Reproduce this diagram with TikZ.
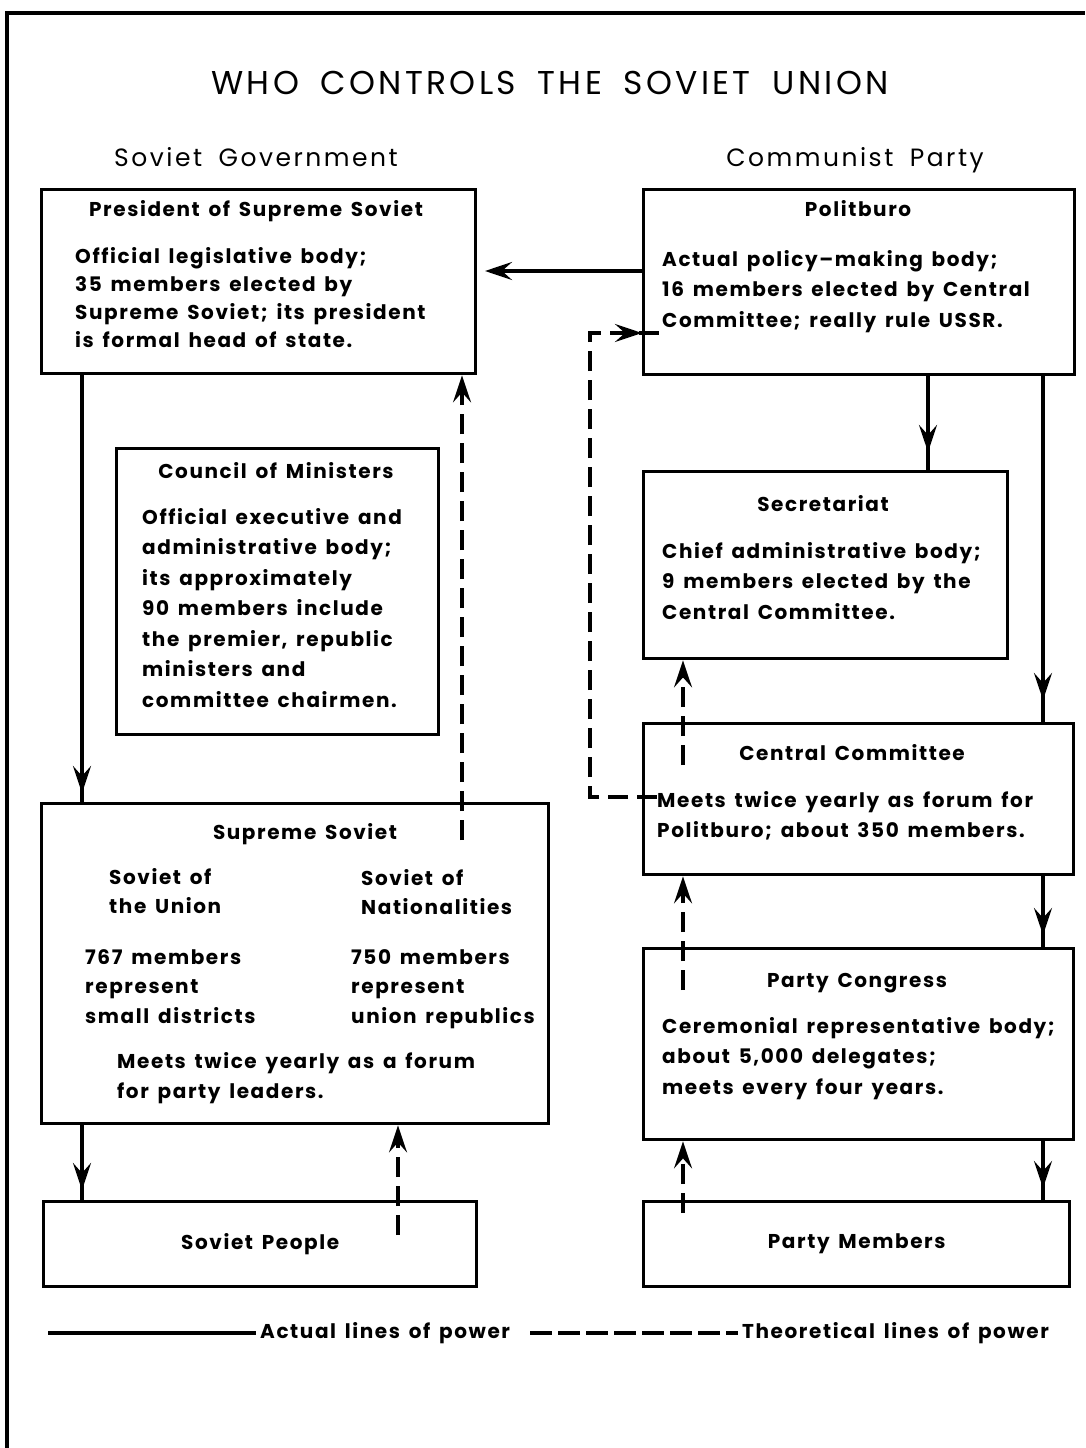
\documentclass[tikz,border=0pt]{standalone}
\usepackage{fontspec}
\setmainfont{Poppins}
\newfontfamily\bodyfont{Poppins}[LetterSpace=8, WordSpace=1.5]
\newfontfamily\headfont{Poppins}[LetterSpace=10, WordSpace=1.5]
\newfontfamily\titlefont{Poppins}[LetterSpace=10, WordSpace=1.8]
\usetikzlibrary{arrows.meta,decorations.markings}
\begin{document}
\begin{tikzpicture}[x=1pt,y=-1pt,
  >={Stealth[length=27pt,width=18pt,inset=10pt]},
  box/.style={draw, line width=3.4pt, inner sep=0pt, anchor=north west},
  txt/.style={inner sep=0pt, align=left, anchor=base west, font=\bodyfont\bfseries\fontsize{20}{29}\selectfont},
  ttl/.style={inner sep=0pt, anchor=base, font=\bodyfont\bfseries\fontsize{20}{29}\selectfont},
  head/.style={inner sep=0pt, anchor=base, font=\headfont\fontsize{25}{28}\selectfont},
  actual/.style={line width=3.4pt},
  theo/.style={line width=3.4pt, dash pattern=on 20pt off 9pt},
  midarrow/.style={postaction={decorate}, decoration={markings, mark=at position #1 with {\arrow{>}}}}
]
\useasboundingbox (0,0) rectangle (1085,1448);
% frame
\coordinate (fa) at (7,1448);
\coordinate (fb) at (7,13);
\coordinate (fc) at (1085,13);
\draw[line width=3.4pt] (fa) -- (fb) -- (fc);

% titles
\node[head, font=\titlefont\fontsize{33}{36}\selectfont] (title) at (550,94) {WHO CONTROLS THE SOVIET UNION};
\node[head] (govt) at (256,166) {Soviet Government};
\node[head] (party) at (855,166) {Communist Party};

% boxes
\node[box, minimum width=434pt, minimum height=184pt] (pres) at (40,188) {};
\node[box, minimum width=431pt, minimum height=185pt] (pol) at (642,188) {};
\node[box, minimum width=322pt, minimum height=286pt] (com) at (115,447) {};
\node[box, minimum width=364pt, minimum height=187pt] (sec) at (642,470) {};
\node[box, minimum width=430pt, minimum height=151pt] (cc) at (642,722) {};
\node[box, minimum width=507pt, minimum height=320pt] (sup) at (40,802) {};
\node[box, minimum width=430pt, minimum height=191pt] (pc) at (642,947) {};
\node[box, minimum width=433pt, minimum height=85pt] (ppl) at (42,1200) {};
\node[box, minimum width=426pt, minimum height=85pt] (pm) at (642,1200) {};

% box texts (base anchor = baseline of last line)
\node[ttl] (presT) at (256,216) {President of Supreme Soviet};
\node[txt, font=\bodyfont\bfseries\fontsize{20}{28}\selectfont] (presB) at (75,347) {Official legislative body;\\35 members elected by\\Supreme Soviet; its president\\is formal head of state.};

\node[ttl] (polT) at (858,216) {Politburo};
\node[txt, font=\bodyfont\bfseries\fontsize{20}{30.5}\selectfont] (polB) at (662,327) {Actual policy–making body;\\16 members elected by Central\\Committee; really rule USSR.};

\node[ttl] (comT) at (276,478) {Council of Ministers};
\node[txt, font=\bodyfont\bfseries\fontsize{20}{30.5}\selectfont] (comB) at (142,707) {Official executive and\\administrative body;\\its approximately\\90 members include\\the premier, republic\\ministers and\\committee chairmen.};

\node[ttl] (secT) at (823,511) {Secretariat};
\node[txt, font=\bodyfont\bfseries\fontsize{20}{30.5}\selectfont] (secB) at (662,619) {Chief administrative body;\\9 members elected by the\\Central Committee.};

\node[ttl] (ccT) at (852,760) {Central Committee};
\node[txt, font=\bodyfont\bfseries\fontsize{20}{30}\selectfont] (ccB) at (657,837) {Meets twice yearly as forum for\\Politburo; about 350 members.};

\node[ttl] (supT) at (305,839) {Supreme Soviet};
\node[txt] (supL1) at (109,913) {Soviet of\\the Union};
\node[txt] (supR1) at (361,914) {Soviet of\\Nationalities};
\node[txt, font=\bodyfont\bfseries\fontsize{20}{29.5}\selectfont] (supL2) at (85,1023) {767 members\\represent\\small districts};
\node[txt, font=\bodyfont\bfseries\fontsize{20}{29.5}\selectfont] (supR2) at (351,1023) {750 members\\represent\\union republics};
\node[txt, font=\bodyfont\bfseries\fontsize{20}{30}\selectfont] (supB) at (117,1098) {Meets twice yearly as a forum\\for party leaders.};

\node[ttl] (pcT) at (857,987) {Party Congress};
\node[txt, font=\bodyfont\bfseries\fontsize{20}{30.5}\selectfont] (pcB) at (662,1094) {Ceremonial representative body;\\about 5,000 delegates;\\meets every four years.};

\node[ttl, anchor=center] (pplT) at (ppl.center) {Soviet People};
\node[ttl, anchor=center] (pmT) at (pm.center) {Party Members};

% actual lines of power
\draw[actual, midarrow=-9pt] ([xshift=42pt]pres.south west) -- ([xshift=42pt]sup.north west);
\draw[actual, ->] ([yshift=-83pt]pol.north west) -- ++(-157,0) coordinate (polend);
\draw[actual, midarrow=-18pt] ([xshift=286pt]pol.south west) -- ([xshift=286pt]pol.south west |- sec.north);
\draw[actual, midarrow=-22pt] ([xshift=401pt]pol.south west) -- ([xshift=401pt]pol.south west |- cc.north);
\draw[actual, midarrow=-12pt] ([xshift=401pt]cc.south west) -- ([xshift=401pt]cc.south west |- pc.north);
\draw[actual, midarrow=-12pt] ([xshift=401pt]pc.south west) -- ([xshift=401pt]pc.south west |- pm.north);
\draw[actual, midarrow=-10pt] ([xshift=42pt]sup.south west) -- ([xshift=42pt]sup.south west |- ppl.north);

% theoretical lines of power
\draw[theo, ->] ([xshift=422pt,yshift=-38pt]sup.north west) -- ([xshift=422pt]pres.south west);
\draw[theo, midarrow=-20pt] ([xshift=15pt,yshift=-75pt]cc.north west) -- ++(-67,0) |- ([xshift=20pt,yshift=-145pt]pol.north west);
\draw[theo, ->] ([xshift=41pt,yshift=-43pt]cc.north west) -- ([xshift=41pt]cc.north west |- sec.south);
\draw[theo, ->] ([xshift=41pt,yshift=-43pt]pc.north west) -- ([xshift=41pt]pc.north west |- cc.south);
\draw[theo, ->] ([xshift=41pt,yshift=-13pt]pm.north west) -- ([xshift=41pt]pm.north west |- pc.south);
\draw[theo, ->] ([xshift=356pt,yshift=-35pt]ppl.north west) -- ([xshift=356pt]ppl.north west |- sup.south);

% legend
\coordinate (la) at (48,1333);
\coordinate (lb) at (530,1333);
\node[txt, anchor=west] (leg1) at (260,1333) {Actual lines of power};
\node[txt, anchor=west] (leg2) at (742,1333) {Theoretical lines of power};
\draw[actual] (la) -- ([xshift=-4pt]leg1.west);
\draw[theo, dash pattern=on 22pt off 6pt] (lb) -- ([xshift=-4pt]leg2.west);
\end{tikzpicture}
\end{document}
